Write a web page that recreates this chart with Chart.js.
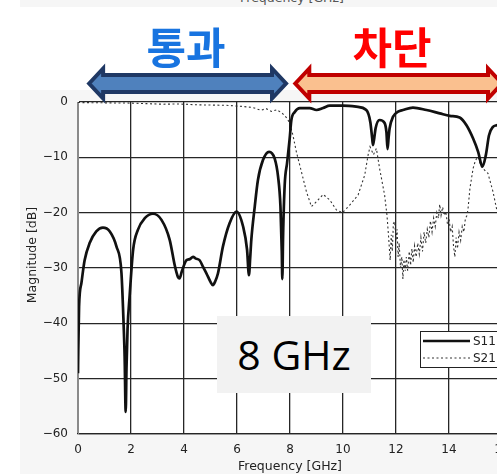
<!DOCTYPE html>
<html>
<head>
<meta charset="utf-8">
<script src="https://cdn.jsdelivr.net/npm/chart.js@4.4.1/dist/chart.umd.min.js"></script>
<style>
  html, body { margin: 0; padding: 0; width: 497px; height: 474px; overflow: hidden; background: #ffffff; }
  #wrap { position: relative; width: 497px; height: 474px; overflow: hidden; }
  .panel { position: absolute; background: #f6f6f6; }
  #c { position: absolute; left: 0; top: 0; }
  .band { position: absolute; font-family: "Noto Sans CJK KR", sans-serif; font-weight: 700;
          font-size: 43px; line-height: 43px; width: 140px; text-align: center; }
  #freqBox { position: absolute; left: 217px; top: 316px; width: 154px; height: 77px; background: #f2f2f2;
             font-family: "Open Sans", sans-serif; font-size: 41px; line-height: 77px; text-align: center; color: #000; }
  #prevTitle { position: absolute; left: 240px; top: -10px; font-family: "DejaVu Sans", sans-serif;
               font-size: 12.5px; line-height: 15px; color: #555; white-space: nowrap; }
</style>
</head>
<body>
<div id="wrap">
  <div class="panel" style="left:20px; top:0; width:477px; height:7px;"></div>
  <div class="panel" style="left:20px; top:90px; width:477px; height:384px;"></div>
  <div id="prevTitle">Frequency [GHz]</div>
  <canvas id="c" width="520" height="474"></canvas>
  <div class="band" style="left:116px; top:24px; color:#1874e0;">통과</div>
  <div class="band" style="left:322px; top:24px; color:#ff0000;">차단</div>
  <div id="freqBox">8 GHz</div>
</div>
<script>
// S11 (reflection) trace, frequency in GHz and magnitude in dB
const s11Freq = [0.00, 0.01, 0.04, 0.13, 0.25, 0.44, 0.69, 0.94, 1.20, 1.45, 1.64, 1.72, 1.76, 1.80, 1.83, 1.87, 1.95,
  2.08, 2.26, 2.52, 2.83, 3.15, 3.46, 3.65, 3.77, 3.83, 3.92, 4.09, 4.22, 4.34, 4.45, 4.59, 4.72, 4.85, 5.00, 5.09,
  5.18, 5.28, 5.47, 5.72, 5.98, 6.23, 6.38, 6.45, 6.50, 6.54, 6.67, 6.79, 6.98, 7.21, 7.42, 7.55, 7.64, 7.69, 7.71,
  7.74, 7.80, 7.89, 7.99, 8.05, 8.18, 8.37, 8.74, 9.00, 9.25, 9.50, 10.00, 10.50, 10.88, 11.03, 11.10, 11.13, 11.18,
  11.23, 11.38, 11.57, 11.64, 11.68, 11.72, 11.76, 11.89, 12.08, 12.26, 12.64, 13.15, 13.65, 14.03, 14.40, 14.66,
  14.91, 15.10, 15.26, 15.39, 15.51, 15.66, 15.80, 16.00];
const s11Mag = [-49, -45, -37, -32.7, -28.6, -25.5, -23.4, -22.7, -23.4, -26.1, -30.9, -40, -46, -56, -48, -41, -35,
  -26.7, -23.1, -21.0, -20.2, -21.3, -24.9, -29.5, -31.6, -31.9, -30.6, -28.6, -28.4, -28.0, -28.3, -28.6, -29.8, -31.0, -32.5, -33.1,
  -32.4, -31.0, -26.1, -21.9, -19.8, -22.5, -26.7, -31.3, -28, -24.9, -18.9, -14.1, -10.5, -9.0, -10.2, -13.5, -18.9, -27, -32,
  -24, -15, -11, -6.5, -3.3, -1.8, -1.1, -1.1, -1.45, -1.1, -0.67, -0.67, -0.85, -1.45, -3.6, -6.5, -7.8, -6.5,
  -4.75, -3.25, -3.8, -5.5, -8.5, -6.5, -4.75, -2.65, -1.75, -1.45, -1.0, -1.45, -2.05, -2.5, -2.8, -4.2,
  -6.6, -9.0, -11.7, -9.6, -6.0, -4.5, -4.2, -4.0];

// S21 (transmission) trace
const s21Freq = [0.00, 1.00, 2.00, 2.60, 3.20, 3.80, 4.40, 5.00, 5.60, 6.20, 6.60, 6.90, 7.10, 7.30, 7.50, 7.70, 7.90,
  8.00, 8.11, 8.24, 8.43, 8.62, 8.81, 9.00, 9.25, 9.50, 9.75, 9.98, 10.26, 10.57, 10.82, 10.95, 11.02, 11.15, 11.26,
  11.38, 11.57, 11.66, 11.72, 11.78, 11.82, 11.86, 11.90, 11.95, 12.00, 12.04, 12.08, 12.12, 12.17, 12.22, 12.26,
  12.30, 12.35, 12.39, 12.44, 12.50, 12.55, 12.60, 12.65, 12.70, 12.76, 12.82, 12.88, 12.94, 13.00, 13.06, 13.12,
  13.18, 13.24, 13.30, 13.36, 13.42, 13.48, 13.54, 13.60, 13.65, 13.70, 13.76, 13.82, 13.88, 13.94, 14.00, 14.06,
  14.12, 14.17, 14.22, 14.27, 14.32, 14.38, 14.44, 14.50, 14.56, 14.62, 14.68, 14.72, 14.79, 14.91, 15.00, 15.10,
  15.20, 15.28, 15.40, 15.47, 15.66, 15.79, 15.90, 16.00];
const s21Mag = [-0.1, -0.15, -0.2, -0.3, -0.4, -0.35, -0.5, -0.55, -0.6, -0.8, -1.0, -1.5, -1.2, -1.7, -1.4, -2.0, -3.0,
  -4.0, -6.0, -9.0, -12.6, -16.2, -18.9, -18.0, -16.7, -17.7, -19.5, -20.0, -18.6, -16.8, -13.2, -9.5, -8.1, -9.5, -8.4,
  -12.0, -16.8, -20.5, -24.3, -28.6, -24, -27, -22, -21.6, -25, -23, -28, -25.5, -30, -28, -32,
  -28.5, -30.5, -28, -30.5, -27, -29.5, -26.5, -29, -26, -28, -25.5, -27.5, -24.5, -27, -23.5, -25.5,
  -23, -24.5, -21.5, -23.5, -21, -22.5, -20, -21, -18.5, -20.5, -19, -20.5, -19.8, -22, -21, -23.5,
  -22.5, -26, -28, -24.5, -26.5, -23.5, -25, -22.5, -23.5, -21, -20.5, -19.2, -15.6, -12.0, -10.5, -9.9,
  -11.5, -12.0, -12.6, -12.9, -16.2, -19.2, -21, -22];

const seriesNames = ['S11', 'S21'];
const yTickLabels = ['−60', '−50', '−40', '−30', '−20', '−10', '0'];
const yTickValues = [-60, -50, -40, -30, -20, -10, 0];
const xTitle = 'Frequency [GHz]';
const yTitle = 'Magnitude [dB]';

const toPoints = (xs, ys) => xs.map((x, i) => ({ x: x, y: ys[i] }));

const FONT = '"DejaVu Sans", sans-serif';

function doubleArrow(ctx, x1, x2, cy, shaftH, headH, headL, fill, stroke, lw) {
  ctx.save();
  ctx.beginPath();
  ctx.moveTo(x1, cy);
  ctx.lineTo(x1 + headL, cy - headH);
  ctx.lineTo(x1 + headL, cy - shaftH);
  ctx.lineTo(x2 - headL, cy - shaftH);
  ctx.lineTo(x2 - headL, cy - headH);
  ctx.lineTo(x2, cy);
  ctx.lineTo(x2 - headL, cy + headH);
  ctx.lineTo(x2 - headL, cy + shaftH);
  ctx.lineTo(x1 + headL, cy + shaftH);
  ctx.lineTo(x1 + headL, cy + headH);
  ctx.closePath();
  ctx.fillStyle = fill;
  ctx.fill();
  ctx.lineJoin = 'miter';
  ctx.miterLimit = 10;
  ctx.lineWidth = lw;
  ctx.strokeStyle = stroke;
  ctx.stroke();
  ctx.restore();
}

const decorations = {
  id: 'decorations',
  beforeDraw(chart) {
    const { ctx, chartArea: a } = chart;
    ctx.save();
    ctx.fillStyle = '#ffffff';
    ctx.fillRect(a.left, a.top, a.right - a.left, a.bottom - a.top);
    ctx.restore();
  },
  afterDraw(chart) {
    const { ctx } = chart;
    const xs = chart.scales.x;
    // pass band / stop band arrows above the plot
    doubleArrow(ctx, xs.getPixelForValue(0.42), xs.getPixelForValue(7.85), 83.5, 8.5, 15, 14, '#4f81bd', '#1f3864', 4);
    doubleArrow(ctx, xs.getPixelForValue(8.2), xs.getPixelForValue(16.0), 83.5, 8.5, 15, 14, '#fac08f', '#c00000', 4);

    // rotated y-axis title
    ctx.save();
    ctx.translate(33, 255);
    ctx.rotate(-Math.PI / 2);
    ctx.font = '12.5px ' + FONT;
    ctx.fillStyle = '#222';
    ctx.textAlign = 'center';
    ctx.textBaseline = 'middle';
    ctx.fillText(yTitle, 0, 0);
    ctx.restore();

    // boxed legend
    const ds = chart.data.datasets;
    ctx.save();
    ctx.fillStyle = '#ffffff';
    ctx.fillRect(420, 331, 90, 36);
    ctx.strokeStyle = '#222';
    ctx.lineWidth = 1;
    ctx.strokeRect(420.5, 331.5, 90, 36);
    const rows = [341, 358];
    ds.forEach((d, i) => {
      ctx.beginPath();
      ctx.setLineDash(d.borderDash || []);
      ctx.lineWidth = d.borderWidth;
      ctx.strokeStyle = d.borderColor;
      ctx.moveTo(423, rows[i]);
      ctx.lineTo(470, rows[i]);
      ctx.stroke();
      ctx.setLineDash([]);
      ctx.font = '12px ' + FONT;
      ctx.fillStyle = '#222';
      ctx.textAlign = 'left';
      ctx.textBaseline = 'middle';
      ctx.fillText(d.label, 473, rows[i] + 0.5);
    });
    ctx.restore();
  }
};

const gridColor = (ctx) => (ctx.tick && ctx.tick.value === 0) ? '#8a8a8a' : '#262626';

new Chart(document.getElementById('c'), {
  type: 'line',
  data: {
    datasets: [
      {
        label: seriesNames[0],
        data: toPoints(s11Freq, s11Mag),
        borderColor: '#111111',
        borderWidth: 2.7,
        pointRadius: 0,
        cubicInterpolationMode: 'monotone',
        fill: false
      },
      {
        label: seriesNames[1],
        data: toPoints(s21Freq, s21Mag),
        borderColor: '#333333',
        borderWidth: 1.1,
        borderDash: [2, 2.5],
        pointRadius: 0,
        tension: 0,
        fill: false
      }
    ]
  },
  options: {
    responsive: false,
    animation: false,
    devicePixelRatio: 1,
    layout: { padding: { top: 102, right: 18, left: 0, bottom: 0 } },
    plugins: { legend: { display: false }, tooltip: { enabled: false } },
    scales: {
      x: {
        type: 'linear',
        min: 0,
        max: 16,
        ticks: { stepSize: 2, padding: 9, color: '#222', font: { family: FONT, size: 12 } },
        grid: { color: gridColor, lineWidth: 1.3, drawTicks: false },
        border: { display: true, color: '#262626', width: 1.3 },
        title: { display: true, text: xTitle, color: '#222', font: { family: FONT, size: 12.5 }, padding: { top: 2, bottom: 0 } },
        afterFit(scale) { scale.height = 40; }
      },
      y: {
        min: -60,
        max: 0,
        afterBuildTicks(scale) { scale.ticks = yTickValues.map(v => ({ value: v })); },
        ticks: {
          padding: 10,
          color: '#222',
          font: { family: FONT, size: 12 },
          callback: (v) => yTickLabels[yTickValues.indexOf(v)]
        },
        grid: { color: '#262626', lineWidth: 1.3, drawTicks: false },
        border: { display: true, color: '#8a8a8a', width: 1 },
        afterFit(scale) { scale.width = 78; }
      }
    }
  },
  plugins: [decorations]
});
</script>
</body>
</html>
